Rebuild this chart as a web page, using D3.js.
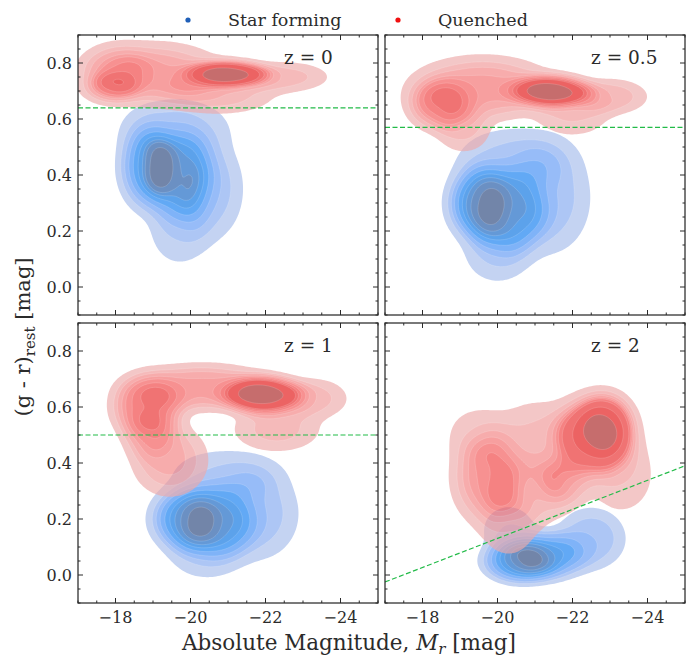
<!DOCTYPE html>
<html><head><meta charset="utf-8">
<script src="https://cdn.jsdelivr.net/npm/d3@7"></script>
<style>
body{margin:0;background:#fff}
svg{display:block}
</style>
</head><body>
<svg id="chart" width="691" height="660"></svg>
<script>
// ---------------- data ----------------
const panelLabels = ["z = 0", "z = 0.5", "z = 1", "z = 2"];
const legendLabels = ["Star forming", "Quenched"];
const xTickValues = [-18, -20, -22, -24];
const yTickValues = [0, 0.2, 0.4, 0.6, 0.8];
const xDomain = [-17, -25];
const yDomain = [-0.1, 0.9];
// colour cut (green dashed) per panel: two end points [M_r, g-r]
const cutLines = [
  [[-17, 0.64], [-25, 0.64]],
  [[-17, 0.57], [-25, 0.57]],
  [[-17, 0.50], [-25, 0.50]],
  [[-17, -0.025], [-25, 0.39]]
];
// density components: [M_r, g-r, sigmaM, sigmaC, rho, weight]
const starFormingZ0 = [
  [-18.85, 0.43, 0.40, 0.08, 0, 1.0],
  [-19.7, 0.40, 0.50, 0.09, 0, 1.0],
  [-20.5, 0.35, 0.50, 0.10, 0, 0.45],
  [-19.7, 0.20, 0.45, 0.07, 0, 0.3],
  [-19.6, 0.57, 0.80, 0.06, 0, 0.35]
];
const starFormingZ05 = [
  [-19.5, 0.30, 0.45, 0.07, 0, 1.0],
  [-20.3, 0.27, 0.55, 0.08, 0, 0.85],
  [-21.4, 0.32, 0.60, 0.11, 0, 0.4],
  [-20.4, 0.46, 0.80, 0.06, 0, 0.35],
  [-20.0, 0.12, 0.50, 0.06, 0, 0.3]
];
const starFormingZ1 = [
  [-19.9, 0.20, 0.50, 0.06, 0, 1.0],
  [-20.7, 0.19, 0.55, 0.07, 0, 0.85],
  [-21.8, 0.22, 0.60, 0.09, 0, 0.4],
  [-20.9, 0.36, 0.80, 0.05, 0, 0.3],
  [-20.4, 0.07, 0.55, 0.05, 0, 0.25]
];
const starFormingZ2 = [
  [-20.6, 0.05, 0.50, 0.04, 0, 1.0],
  [-21.3, 0.07, 0.55, 0.045, 0, 0.8],
  [-22.5, 0.13, 0.50, 0.06, 0, 0.35],
  [-20.3, 0.16, 0.40, 0.05, 0, 0.25]
];
const quenchedZ0 = [
  [-21.0, 0.763, 0.55, 0.025, 0, 1.0],
  [-17.9, 0.710, 0.40, 0.030, 0, 0.3],
  [-19.0, 0.760, 1.00, 0.060, 0, 0.4],
  [-22.5, 0.750, 0.65, 0.030, 0, 0.25],
  [-20.8, 0.690, 0.80, 0.040, 0, 0.25],
  [-18.0, 0.780, 0.50, 0.050, 0, 0.2]
];
const quenchedZ05 = [
  [-21.45, 0.70, 0.55, 0.030, 0, 1.0],
  [-18.45, 0.65, 0.45, 0.050, 0, 0.45],
  [-19.6, 0.71, 1.00, 0.060, 0, 0.4],
  [-23.0, 0.68, 0.55, 0.035, 0, 0.25],
  [-19.1, 0.56, 0.40, 0.045, 0, 0.2],
  [-22.0, 0.62, 0.55, 0.045, 0, 0.2]
];
const quenchedZ1 = [
  [-21.95, 0.643, 0.55, 0.035, 0, 1.0],
  [-18.85, 0.600, 0.50, 0.060, 0, 0.5],
  [-20.3, 0.670, 1.00, 0.045, 0, 0.35],
  [-19.45, 0.410, 0.55, 0.070, 0, 0.26],
  [-18.9, 0.500, 0.40, 0.050, 0, 0.2],
  [-23.3, 0.630, 0.50, 0.040, 0, 0.2],
  [-22.3, 0.520, 0.65, 0.045, 0, 0.2]
];
const quenchedZ2 = [
  [-22.6, 0.50, 0.55, 0.075, 0, 1.0],
  [-22.9, 0.54, 0.40, 0.060, 0, 0.5],
  [-19.7, 0.35, 0.50, 0.09, 0, 0.55],
  [-21.1, 0.48, 0.70, 0.08, 0, 0.3],
  [-20.3, 0.18, 0.45, 0.07, 0, 0.22],
  [-21.0, 0.30, 0.60, 0.07, 0, 0.3],
  [-21.8, 0.33, 0.40, 0.05, 0, 0.3],
  [-23.3, 0.36, 0.50, 0.08, 0, 0.25],
  [-19.4, 0.51, 0.50, 0.06, 0, 0.15]
];
const starForming = [starFormingZ0, starFormingZ05, starFormingZ1, starFormingZ2];
const quenched = [quenchedZ0, quenchedZ05, quenchedZ1, quenchedZ2];

// ---------------- style ----------------
const FONT = "DejaVu Serif";
const kernelPower = 1.5;   // flatter-topped kernel shape
const kernelScale = 1.38;  // keeps the outer extent of each component
const blueBands = ["#c4d3f2","#adc6f5","#97bcf8","#7fb3f8","#62a9f5","#5ca2eb","#6499d7","#6b90c3","#7285a9"];
const redBandsSeen = ["#f4c8c8","#f6bbbb","#f7adad","#f8a0a0","#f89292","#f58383","#f17474","#ec6464","#c76e6e"];
const redAlpha = 0.65;
const redBands = redBandsSeen.map(c => {
  const k = d3.rgb(c);
  const f = v => Math.max(0, Math.min(255, Math.round((v - 255 * (1 - redAlpha)) / redAlpha)));
  return d3.rgb(f(k.r), f(k.g), f(k.b)).formatHex();
});
const frameColor = "#2a2a2a";
const textColor = "#2b2b2b";
const panelW = 300, panelH = 280;
const panelPos = [[78, 35], [385, 35], [78, 323], [385, 323]];

const svg = d3.select("#chart");
const xs0 = d3.scaleLinear().domain(xDomain).range([0, panelW]);
const ys0 = d3.scaleLinear().domain(yDomain).range([panelH, 0]);

// density grid
const nx = 180, ny = 170;
const m0 = -16.6, m1 = -25.4, c0 = -0.16, c1 = 0.96;
const dm = (m1 - m0) / (nx - 1), dc = (c1 - c0) / (ny - 1);
function dens(comps, M, C) {
  let s = 0;
  for (const [mx, my, sx, sy, rho, w] of comps) {
    const a = (M - mx) / (sx * kernelScale), b = (C - my) / (sy * kernelScale);
    const q = (a * a - 2 * rho * a * b + b * b) / (1 - rho * rho);
    s += w * Math.exp(-0.5 * Math.pow(q, kernelPower));
  }
  return s;
}
function grid(comps) {
  const v = new Float64Array(nx * ny);
  for (let j = 0; j < ny; j++) for (let i = 0; i < nx; i++)
    v[j * nx + i] = dens(comps, m0 + i * dm, c0 + j * dc);
  return v;
}
function isoLevels(v) {
  const sorted = Array.from(v).sort((a, b) => b - a);
  const tot = d3.sum(sorted);
  const cum = [];
  let acc = 0;
  for (const s of sorted) { acc += s; cum.push(acc / tot); }
  const props = d3.range(10).map(k => 0.05 + k * 0.95 / 9).slice(0, 9);
  return props.map(p => sorted[Math.min(sorted.length - 1, d3.bisectLeft(cum, 1 - p))]);
}
function txt(sel) {
  return sel.append("text").style("font-family", FONT).attr("fill", textColor);
}

panelPos.forEach(([px, py], k) => {
  const g = svg.append("g").attr("transform", `translate(${px},${py})`);
  const clipId = "clip" + k;
  g.append("clipPath").attr("id", clipId).append("rect").attr("width", panelW).attr("height", panelH);
  const body = g.append("g").attr("clip-path", `url(#${clipId})`);
  const proj = d3.geoTransform({
    point(x, y) { this.stream.point(xs0(m0 + (x - 0.5) * dm), ys0(c0 + (y - 0.5) * dc)); }
  });
  const path = d3.geoPath(proj);
  [[starForming[k], blueBands, 1], [quenched[k], redBands, redAlpha]].forEach(([comps, cols, op]) => {
    const v = grid(comps);
    const lv = isoLevels(v);
    const cs = d3.contours().size([nx, ny]).thresholds(lv)(v);
    const layer = body.append("g").attr("opacity", op);
    cs.forEach((c, i) => {
      layer.append("path").attr("d", path(c)).attr("fill", cols[i])
        .attr("stroke", i > 0 ? "#ffffff" : "none").attr("stroke-opacity", 0.3).attr("stroke-width", 0.5);
    });
  });
  // cut line
  body.append("line")
    .attr("x1", xs0(cutLines[k][0][0])).attr("y1", ys0(cutLines[k][0][1]))
    .attr("x2", xs0(cutLines[k][1][0])).attr("y2", ys0(cutLines[k][1][1]))
    .attr("stroke", "#22bb48").attr("stroke-width", 1.2).attr("stroke-dasharray", "5,2.5");

  // ticks (inward, all sides)
  const tk = g.append("g").attr("stroke", frameColor).attr("stroke-width", 1);
  const xMinor = d3.range(-17, -25.01, -0.5);
  const yMinor = d3.range(-0.1, 0.9001, 0.05);
  xMinor.forEach(t => {
    const major = xTickValues.some(m => Math.abs(m - t) < 1e-6);
    const L = major ? 5 : 2.5, X = xs0(t);
    tk.append("line").attr("x1", X).attr("x2", X).attr("y1", panelH).attr("y2", panelH - L);
    tk.append("line").attr("x1", X).attr("x2", X).attr("y1", 0).attr("y2", L);
  });
  yMinor.forEach(t => {
    const major = yTickValues.some(m => Math.abs(m - t) < 1e-6);
    const L = major ? 5 : 2.5, Y = ys0(t);
    tk.append("line").attr("y1", Y).attr("y2", Y).attr("x1", 0).attr("x2", L);
    tk.append("line").attr("y1", Y).attr("y2", Y).attr("x1", panelW).attr("x2", panelW - L);
  });
  g.append("rect").attr("width", panelW).attr("height", panelH)
    .attr("fill", "none").attr("stroke", frameColor).attr("stroke-width", 1.25);

  if (k % 2 === 0) {
    yTickValues.forEach(d => {
      txt(g).attr("x", -6).attr("y", ys0(d)).attr("dy", "0.35em")
        .attr("text-anchor", "end").attr("font-size", 16).text(d3.format(".1f")(d));
    });
  }
  if (k >= 2) {
    xTickValues.forEach(d => {
      txt(g).attr("x", xs0(d)).attr("y", panelH + 20)
        .attr("text-anchor", "middle").attr("font-size", 16).text("\u2212" + Math.abs(d));
    });
  }
  txt(g).attr("x", 206).attr("y", 29).attr("font-size", 18.5).text(panelLabels[k]);
});

// legend
const legendColors = ["#1f5fb8", "#f01010"];
const legendX = [188, 398];
legendLabels.forEach((t, i) => {
  svg.append("circle").attr("cx", legendX[i]).attr("cy", 20).attr("r", 2.6).attr("fill", legendColors[i]);
  txt(svg).attr("x", legendX[i] + 40).attr("y", 26).attr("font-size", 17.5).text(t);
});

// axis labels
const xl = txt(svg).attr("x", 349).attr("y", 650).attr("text-anchor", "middle").attr("font-size", 21.5);
xl.append("tspan").text("Absolute Magnitude, ");
xl.append("tspan").attr("font-style", "italic").text("M");
xl.append("tspan").attr("font-style", "italic").attr("font-size", 15).attr("dy", 4).text("r");
xl.append("tspan").attr("dy", -4).text(" [mag]");

const yl = txt(svg).attr("transform", "translate(30,337) rotate(-90)").attr("text-anchor", "middle").attr("font-size", 21);
yl.append("tspan").text("(g - r)");
yl.append("tspan").attr("font-size", 15).attr("dy", 5).text("rest");
yl.append("tspan").attr("dy", -5).text(" [mag]");
</script>
</body></html>
